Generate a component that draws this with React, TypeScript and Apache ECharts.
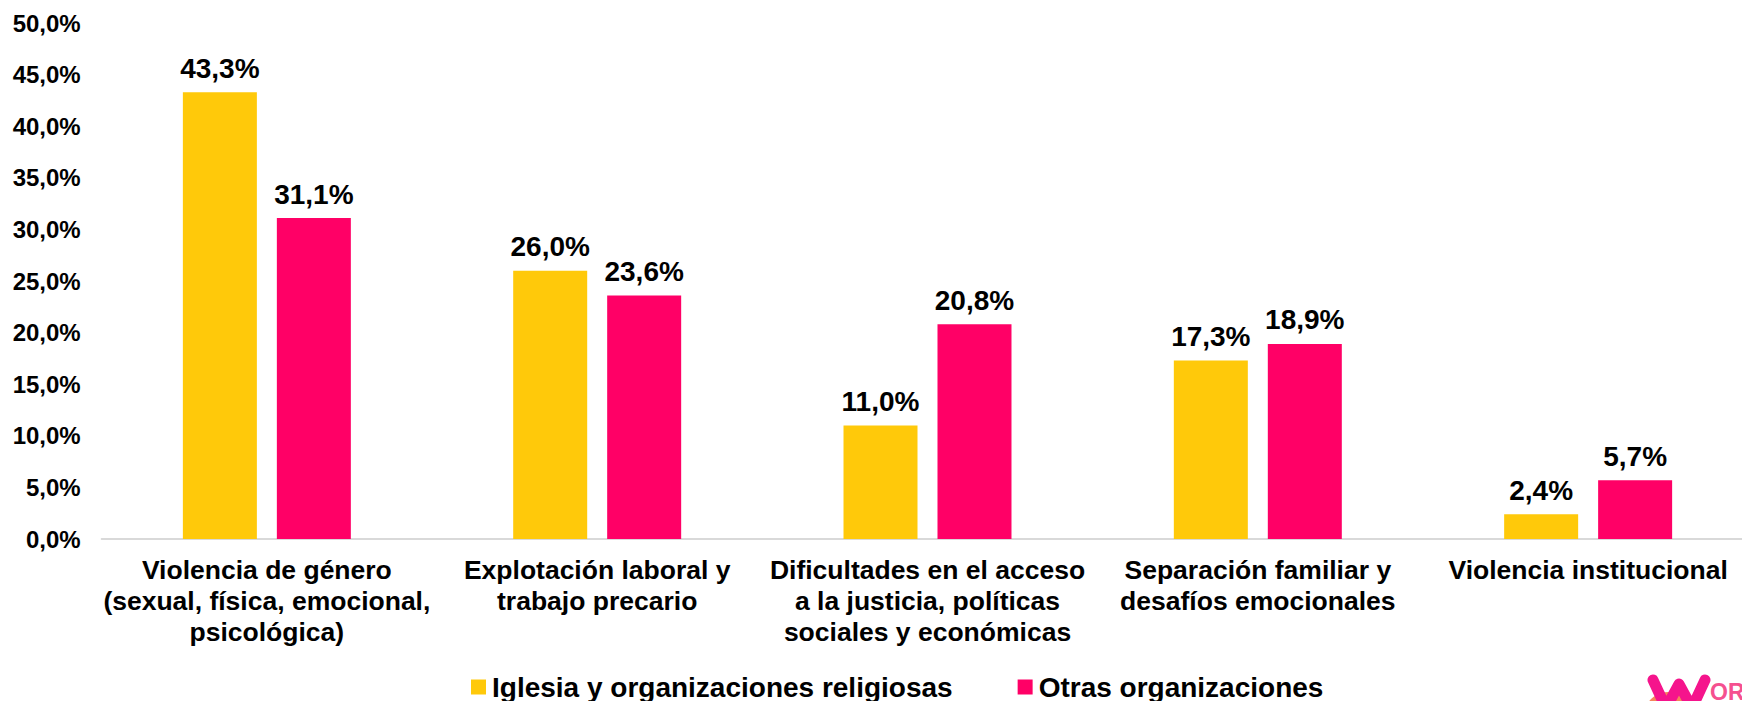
import React, { useEffect, useRef } from "react";
import * as echarts from "echarts";

const categories = [
  "Violencia de género\n(sexual, física, emocional,\npsicológica)",
  "Explotación laboral y\ntrabajo precario",
  "Dificultades en el acceso\na la justicia, políticas\nsociales y económicas",
  "Separación familiar y\ndesafíos emocionales",
  "Violencia institucional",
];
const seriesNames = ["Iglesia y organizaciones religiosas", "Otras organizaciones"];
const iglesiaValues = [43.3, 26.0, 11.0, 17.3, 2.4];
const otrasValues = [31.1, 23.6, 20.8, 18.9, 5.7];
const colors = ["#FFC90A", "#FF0066"];

const FONT = "'Liberation Sans', Arial, sans-serif";
const fmt = (v: number) => v.toFixed(1).replace(".", ",") + "%";

export default function App() {
  const ref = useRef<HTMLDivElement>(null);
  useEffect(() => {
    if (!ref.current) return;
    const chart = echarts.init(ref.current, null, { renderer: "svg" });
    const label = {
      show: true,
      position: "top" as const,
      distance: 10,
      fontFamily: FONT,
      fontSize: 28,
      fontWeight: "bold" as const,
      color: "#000",
      formatter: (p: any) => fmt(p.value),
    };
    chart.setOption({
      animation: false,
      backgroundColor: "#fff",
      textStyle: { fontFamily: FONT },
      grid: {
        left: 101.7,
        top: 23,
        right: -11.3,
        bottom: 162,
        containLabel: false,
        outerBoundsMode: "none",
      },
      xAxis: {
        type: "category",
        data: categories,
        axisLine: { show: true, lineStyle: { color: "#D9D9D9", width: 2 } },
        axisTick: { show: false },
        axisLabel: {
          interval: 0,
          margin: 15,
          fontFamily: FONT,
          fontSize: 26.5,
          fontWeight: "bold",
          color: "#000",
          lineHeight: 31,
          align: "center",
        },
      },
      yAxis: {
        type: "value",
        min: 0,
        max: 50,
        interval: 5,
        axisLine: { show: false },
        axisTick: { show: false },
        splitLine: { show: false },
        axisLabel: {
          margin: 21,
          fontFamily: FONT,
          fontSize: 24,
          fontWeight: "bold",
          color: "#000",
          formatter: (v: number) => fmt(v),
        },
      },
      legend: {
        left: 471,
        top: 673,
        padding: 0,
        icon: "rect",
        itemWidth: 15,
        itemHeight: 15,
        itemGap: 65,
        textStyle: { fontFamily: FONT, fontSize: 28, fontWeight: "bold", color: "#000", padding: [0, 0, 0, 1] },
        data: seriesNames,
      },
      series: [
        {
          name: seriesNames[0],
          type: "bar",
          data: iglesiaValues,
          barWidth: 74,
          barGap: "27%",
          itemStyle: { color: colors[0] },
          label,
        },
        {
          name: seriesNames[1],
          type: "bar",
          data: otrasValues,
          barWidth: 74,
          barGap: "27%",
          itemStyle: { color: colors[1] },
          label,
        },
      ],
      graphic: [
        {
          type: "circle",
          shape: { cx: 1668, cy: 716, r: 24 },
          style: { fill: "#F5875A" },
          z: 10,
        },
        {
          type: "polyline",
          shape: { points: [[1653, 680], [1666, 708], [1679, 684], [1692, 708], [1705, 680]] },
          style: { stroke: "#F5148C", lineWidth: 11, lineCap: "round", lineJoin: "round", fill: null },
          z: 11,
        },
        {
          type: "text",
          x: 1710,
          y: 680,
          style: { text: "OR", font: "bold 23px 'Liberation Sans', Arial, sans-serif", fill: "#F5508F" },
          z: 11,
        },
      ],
    });
    return () => chart.dispose();
  }, []);
  return (
    <div
      ref={ref}
      style={{ position: "fixed", left: 0, top: 0, width: 1742, height: 701, background: "#fff" }}
    />
  );
}
